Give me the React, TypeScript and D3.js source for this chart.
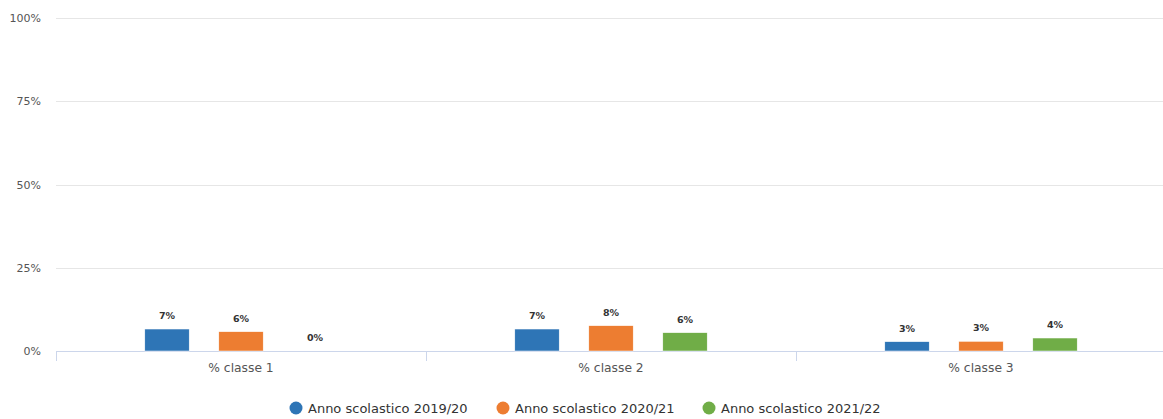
import React from "react";
import * as d3 from "d3";

// chart data
const categories = ["% classe 1", "% classe 2", "% classe 3"];
const seriesNames = ["Anno scolastico 2019/20", "Anno scolastico 2020/21", "Anno scolastico 2021/22"];
const series2019 = [6.6, 6.6, 2.8];
const series2020 = [5.8, 7.6, 2.9];
const series2021 = [0, 5.5, 3.9];
const yTicks = [0, 25, 50, 75, 100];
const colors = ["#2e75b6", "#ed7d31", "#70ad47"];

const W = 1163;
const H = 419;
const margin = { top: 18, right: -3, bottom: 67, left: 56 };

export default function App() {
  const seriesValues = [series2019, series2020, series2021];

  const x = d3
    .scaleBand<string>()
    .domain(categories)
    .range([margin.left, W - margin.right])
    .padding(0);

  // group padding 0.2 on each side of the category, then bars within
  const bw = x.bandwidth();
  const inner = d3
    .scaleBand<string>()
    .domain(seriesNames)
    .range([bw * 0.2, bw * 0.8])
    .paddingInner(0.4)
    .paddingOuter(0.2);

  const y = d3.scaleLinear().domain([0, 100]).range([H - margin.bottom - 1, margin.top]);

  const font = "'DejaVu Sans', Verdana, sans-serif";

  // legend positions
  const legendX = [296, 503, 709];

  return (
    <svg width={W} height={H} style={{ position: "absolute", left: 0, top: 0, fontFamily: font }}>
      <rect width={W} height={H} fill="#fff" />
      {/* gridlines */}
      {yTicks.map((t) => (
        <g key={t}>
          {t > 0 && (
            <line x1={margin.left} x2={W} y1={Math.round(y(t)) + 0.5} y2={Math.round(y(t)) + 0.5} stroke="#e6e6e6" />
          )}
          <text x={41} y={y(t) + 4} textAnchor="end" fontSize={11} fill="#555">
            {t}%
          </text>
        </g>
      ))}
      {/* x axis */}
      <line x1={margin.left} x2={W} y1={y(0) + 0.5} y2={y(0) + 0.5} stroke="#ccd6eb" />
      {categories.map((c, i) => (
        <line key={"tk" + i} x1={x(c)! + 0.5} x2={x(c)! + 0.5} y1={y(0)} y2={y(0) + 10} stroke="#ccd6eb" />
      ))}
      {categories.map((c) => (
        <text key={c} x={x(c)! + bw / 2} y={y(0) + 21} textAnchor="middle" fontSize={12.3} fill="#555">
          {c}
        </text>
      ))}
      {/* bars */}
      {seriesNames.map((s, si) =>
        categories.map((c, ci) => {
          const v = seriesValues[si][ci];
          const bx = x(c)! + inner(s)!;
          const top = y(v);
          return (
            <g key={s + c}>
              {v > 0 && (
                <rect x={bx} y={top} width={inner.bandwidth()} height={y(0) - top} fill={colors[si]} stroke="#fff" strokeWidth={0.5} />
              )}
              <text
                x={bx + inner.bandwidth() / 2}
                y={top - 10}
                textAnchor="middle"
                fontSize={9.5}
                fontWeight="bold"
                fill="#333"
              >
                {Math.round(v)}%
              </text>
            </g>
          );
        })
      )}
      {/* legend */}
      {seriesNames.map((s, i) => (
        <g key={"lg" + s}>
          <circle cx={legendX[i]} cy={408} r={6.5} fill={colors[i]} />
          <text x={legendX[i] + 12} y={413} fontSize={13} fill="#333">
            {s}
          </text>
        </g>
      ))}
    </svg>
  );
}
